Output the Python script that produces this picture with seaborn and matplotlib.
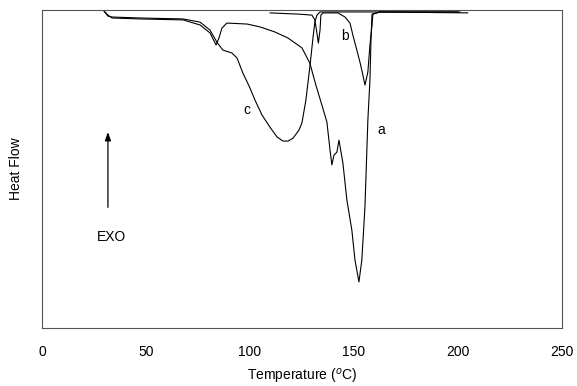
import matplotlib
matplotlib.use("Agg")
import matplotlib.pyplot as plt
import numpy as np
import pandas as pd
import seaborn as sns

# DSC-kurver, lest av figuren (temperatur i °C, varmestrøm i vilkårlige enheter)
temp_a = [29.8, 31.7, 33.7, 47.1, 67.8, 76.0, 80.8, 83.7, 85.1, 86.5, 88.9, 98.6,
          104.8, 112.0, 118.3, 125.0, 128.8, 131.7, 134.6, 137.0, 138.5, 139.4,
          140.4, 141.8, 142.8, 144.7, 146.6, 149.0, 150.5, 152.4, 153.8, 155.3,
          156.7, 157.7, 158.2, 158.7, 162.5, 201.0]
hf_a = [-0.03, -0.16, -0.25, -0.28, -0.31, -0.47, -0.72, -1.10, -0.88, -0.57, -0.41, -0.44,
        -0.53, -0.69, -0.88, -1.19, -1.67, -2.36, -2.99, -3.52, -4.40, -4.87,
        -4.56, -4.47, -4.09, -4.81, -5.97, -6.92, -7.86, -8.55, -7.86, -6.19,
        -3.46, -2.20, -0.94, -0.13, -0.06, -0.06]

temp_b = [109.6, 124.0, 129.8, 131.2, 132.2, 132.9, 133.7, 134.1, 135.1, 142.3,
          145.7, 148.1, 149.5, 151.4, 152.9, 154.3, 155.3, 156.7, 157.7, 158.7,
          159.1, 162.5, 204.8]
hf_b = [-0.09, -0.13, -0.16, -0.31, -0.72, -1.04, -0.63, -0.16, -0.09, -0.09,
        -0.22, -0.41, -0.79, -1.26, -1.64, -2.04, -2.36, -1.95, -1.10, -0.47,
        -0.13, -0.06, -0.09]

temp_c = [29.8, 31.7, 33.7, 47.1, 67.8, 76.0, 80.8, 84.1, 87.0, 91.3, 93.8, 96.6,
          100.0, 102.4, 105.8, 109.6, 113.0, 115.9, 118.3, 120.7, 123.6, 125.0,
          126.9, 128.8, 130.3, 131.2, 132.2, 133.7, 143.3, 200.0]
hf_c = [-0.03, -0.19, -0.22, -0.25, -0.28, -0.38, -0.63, -1.01, -1.26, -1.35, -1.51, -1.98,
        -2.45, -2.83, -3.30, -3.68, -3.99, -4.12, -4.12, -4.03, -3.77, -3.55,
        -2.83, -1.79, -0.88, -0.38, -0.16, -0.06, -0.06, -0.06]

kurver = pd.concat([
    pd.DataFrame({"temp": temp_a, "hf": hf_a, "prøve": "a"}),
    pd.DataFrame({"temp": temp_b, "hf": hf_b, "prøve": "b"}),
    pd.DataFrame({"temp": temp_c, "hf": hf_c, "prøve": "c"}),
])

sns.set_style("white")
plt.rcParams["font.family"] = ["Liberation Sans", "DejaVu Sans"]
plt.rcParams["text.color"] = "black"
plt.rcParams["axes.labelcolor"] = "black"

fig = plt.figure(figsize=(5.77, 3.86), dpi=100)
ax = fig.add_axes([0.0728, 0.150, 0.901, 0.824])

for navn, gruppe in kurver.groupby("prøve"):
    sns.lineplot(data=gruppe, x="temp", y="hf", sort=False, color="black",
                 linewidth=0.8, ax=ax, legend=False)

ax.set_xlim(0, 250)
ax.set_ylim(-10, 0)
ax.set_xticks([0, 50, 100, 150, 200, 250])
ax.set_yticks([])
ax.tick_params(axis="x", labelsize=10, length=2, direction="in", pad=12, colors="black")
for s in ax.spines.values():
    s.set_color("#555555")
    s.set_linewidth(0.8)

ax.set_xlabel("Temperature ($^{o}$C)", fontsize=10, labelpad=6)
ax.set_ylabel("Heat Flow", fontsize=10, labelpad=14)

ax.text(163, -3.77, "a", fontsize=10, ha="center", va="center")
ax.text(145.7, -0.82, "b", fontsize=10, ha="center", va="center")
ax.text(98.6, -3.14, "c", fontsize=10, ha="center", va="center")
ax.text(33.2, -7.14, "EXO", fontsize=10, ha="center", va="center")
ax.annotate("", xy=(31.7, -3.75), xytext=(31.7, -6.29),
            arrowprops=dict(arrowstyle="-|>,head_length=0.5,head_width=0.18",
                            color="black", lw=0.9))

fig.savefig("out.png", dpi=100)
